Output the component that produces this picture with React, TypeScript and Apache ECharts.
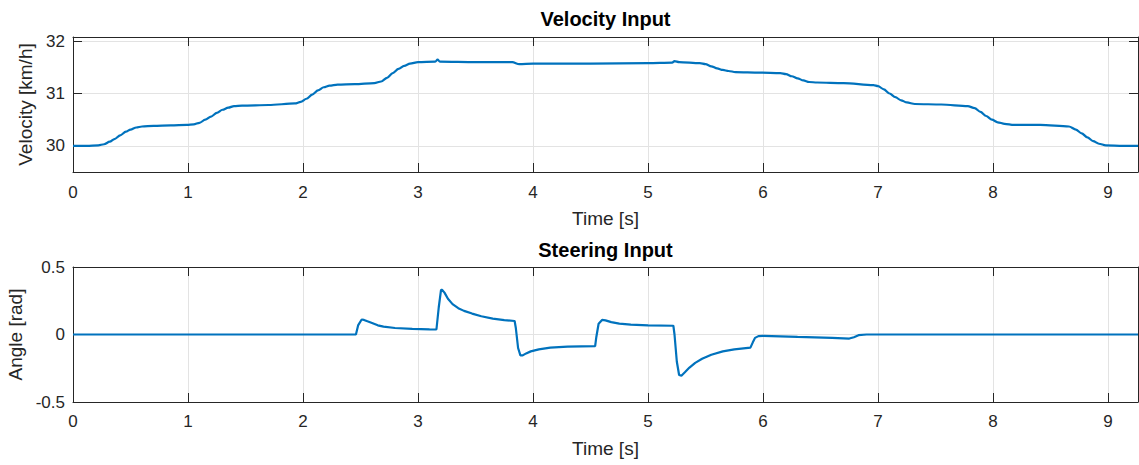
import React, { useEffect, useRef } from "react";
import * as echarts from "echarts";

// Time axis (seconds)
const timeMax = 9.26;
const timeTicks = [0, 1, 2, 3, 4, 5, 6, 7, 8, 9];

// Velocity subplot
const velocityMin = 29.5;
const velocityMax = 32.08;
const velocityTicks = [30, 31, 32];
const velocityTime = [
  0, 0.12, 0.22, 0.27, 0.32, 0.36, 0.41, 0.46, 0.5, 0.55, 0.6, 0.7, 0.85, 0.99,
  1.05, 1.1, 1.15, 1.2, 1.25, 1.3, 1.35, 1.4, 1.47, 1.7, 1.93, 1.98, 2.03, 2.08,
  2.13, 2.18, 2.23, 2.3, 2.45, 2.62, 2.68, 2.73, 2.78, 2.83, 2.88, 2.93, 3.0, 3.15,
  3.17, 3.19, 3.5, 3.82, 3.88, 4.0, 4.5, 5.0, 5.21, 5.23, 5.27, 5.45, 5.5, 5.55,
  5.6, 5.65, 5.7, 5.76, 5.97, 6.15, 6.2, 6.25, 6.3, 6.35, 6.4, 6.47, 6.7, 6.96,
  7.0, 7.05, 7.1, 7.15, 7.2, 7.25, 7.32, 7.55, 7.78, 7.84, 7.89, 7.94, 7.99, 8.04,
  8.1, 8.18, 8.41, 8.66, 8.72, 8.77, 8.82, 8.87, 8.92, 8.98, 9.13, 9.26,
];
const velocityKmh = [
  30.0, 30.0, 30.01, 30.03, 30.08, 30.13, 30.2, 30.27, 30.31, 30.35, 30.37, 30.38,
  30.39, 30.4, 30.41, 30.44, 30.5, 30.56, 30.63, 30.69, 30.73, 30.76, 30.77, 30.78,
  30.81, 30.84, 30.9, 30.98, 31.06, 31.12, 31.15, 31.17, 31.18, 31.2, 31.23, 31.3,
  31.39, 31.47, 31.53, 31.57, 31.6, 31.61, 31.65, 31.61, 31.6, 31.6, 31.56, 31.57,
  31.57, 31.58, 31.59, 31.62, 31.6, 31.58, 31.56, 31.52, 31.48, 31.45, 31.43, 31.41,
  31.4, 31.39, 31.37, 31.33, 31.29, 31.25, 31.22, 31.21, 31.2, 31.16, 31.14, 31.08,
  31.0, 30.93, 30.87, 30.83, 30.8, 30.79, 30.76, 30.72, 30.65, 30.57, 30.5, 30.45,
  30.42, 30.4, 30.4, 30.37, 30.31, 30.24, 30.16, 30.09, 30.04, 30.01, 30.0, 30.0,
];

// Steering subplot
const angleMin = -0.5;
const angleMax = 0.5;
const angleTicks = [-0.5, 0, 0.5];
const steeringTime = [
  0, 2.46, 2.48, 2.51, 2.53, 2.56, 2.6, 2.65, 2.7, 2.8, 2.95, 3.1, 3.16, 3.18,
  3.2, 3.21, 3.23, 3.26, 3.3, 3.35, 3.4, 3.47, 3.55, 3.65, 3.75, 3.84, 3.85, 3.87,
  3.89, 3.91, 3.94, 3.98, 4.05, 4.15, 4.3, 4.54, 4.55, 4.57, 4.6, 4.63, 4.68, 4.75,
  4.85, 5.0, 5.22, 5.23, 5.25, 5.27, 5.29, 5.32, 5.36, 5.41, 5.47, 5.55, 5.65, 5.75,
  5.89, 5.91, 5.93, 5.96, 6.0, 6.3, 6.6, 6.75, 6.79, 6.83, 6.9, 9.26,
];
const steeringRad = [
  0, 0, 0.07, 0.111, 0.108, 0.098, 0.085, 0.068, 0.058, 0.048, 0.042, 0.038, 0.037,
  0.2, 0.33, 0.33, 0.31, 0.265, 0.225, 0.195, 0.175, 0.155, 0.135, 0.118, 0.107,
  0.1, 0.05, -0.1, -0.155, -0.155, -0.14, -0.125, -0.11, -0.097, -0.09, -0.086,
  -0.02, 0.08, 0.108, 0.105, 0.092, 0.08, 0.073, 0.067, 0.065, 0.0, -0.2, -0.3,
  -0.305, -0.28, -0.245, -0.21, -0.18, -0.15, -0.125, -0.11, -0.097, -0.06, -0.025,
  -0.012, -0.01, -0.018, -0.025, -0.03, -0.02, -0.005, 0.0, 0.0,
];

const FONT = "'Liberation Sans', Arial, Helvetica, sans-serif";
const INK = "#262626";
const LINE = "#0072BD";
const GRID = "#e3e3e3";

const pairs = (xs: number[], ys: number[]) => xs.map((x, i) => [x, ys[i]]);

const plotLeft = 73;
const plotWidth = 1065;
const plotHeight = 135;
const topPlotTop = 37;
const bottomPlotTop = 267;

function bottomAxis(gridIndex: number, margin: number) {
  return {
    type: "value",
    gridIndex,
    position: "bottom",
    min: 0,
    max: timeMax,
    name: "Time [s]",
    nameLocation: "middle",
    nameGap: 37,
    nameTextStyle: { fontFamily: FONT, fontSize: 19, color: INK },
    axisLine: { show: true, onZero: false, lineStyle: { color: INK, width: 1 } },
    axisTick: { show: true, inside: true, length: 9, customValues: timeTicks, lineStyle: { color: INK } },
    axisLabel: { show: true, customValues: timeTicks, margin, fontFamily: FONT, fontSize: 17, color: INK },
    splitLine: { show: true, lineStyle: { color: GRID, width: 1 } },
  };
}

function topAxis(gridIndex: number) {
  return {
    type: "value",
    gridIndex,
    position: "top",
    min: 0,
    max: timeMax,
    axisLine: { show: true, onZero: false, lineStyle: { color: INK, width: 1 } },
    axisTick: { show: true, inside: true, length: 9, customValues: timeTicks, lineStyle: { color: INK } },
    axisLabel: { show: false },
    splitLine: { show: false },
  };
}

function leftAxis(gridIndex: number, min: number, max: number, ticks: number[], name: string, nameGap: number) {
  return {
    type: "value",
    gridIndex,
    position: "left",
    min,
    max,
    name,
    nameLocation: "middle",
    nameGap,
    nameTextStyle: { fontFamily: FONT, fontSize: 19, color: INK },
    axisLine: { show: true, onZero: false, lineStyle: { color: INK, width: 1 } },
    axisTick: { show: true, inside: true, length: 9, customValues: ticks, lineStyle: { color: INK } },
    axisLabel: { show: true, customValues: ticks, margin: 8, fontFamily: FONT, fontSize: 17, color: INK },
    splitLine: { show: true, lineStyle: { color: GRID, width: 1 } },
  };
}

function rightAxis(gridIndex: number, min: number, max: number, ticks: number[]) {
  return {
    type: "value",
    gridIndex,
    position: "right",
    min,
    max,
    axisLine: { show: true, onZero: false, lineStyle: { color: INK, width: 1 } },
    axisTick: { show: true, inside: true, length: 9, customValues: ticks, lineStyle: { color: INK } },
    axisLabel: { show: false },
    splitLine: { show: false },
  };
}

export default function App() {
  const ref = useRef<HTMLDivElement>(null);

  useEffect(() => {
    if (!ref.current) return;
    const chart = echarts.init(ref.current, undefined, { renderer: "svg" });
    chart.setOption({
      animation: false,
      backgroundColor: "#ffffff",
      grid: [
        {
          left: plotLeft,
          top: topPlotTop,
          width: plotWidth,
          height: plotHeight,
          containLabel: false,
          outerBoundsMode: "none",
        },
        {
          left: plotLeft,
          top: bottomPlotTop,
          width: plotWidth,
          height: plotHeight,
          containLabel: false,
          outerBoundsMode: "none",
        },
      ],
      xAxis: [bottomAxis(0, 12), topAxis(0), bottomAxis(1, 11), topAxis(1)],
      yAxis: [
        leftAxis(0, velocityMin, velocityMax, velocityTicks, "Velocity [km/h]", 30),
        rightAxis(0, velocityMin, velocityMax, velocityTicks),
        leftAxis(1, angleMin, angleMax, angleTicks, "Angle [rad]", 43),
        rightAxis(1, angleMin, angleMax, angleTicks),
      ],
      graphic: [
        {
          type: "text",
          x: plotLeft + plotWidth / 2,
          y: 9,
          style: {
            text: "Velocity Input",
            fill: "#000000",
            font: `bold 20px ${FONT}`,
            textAlign: "center",
            textVerticalAlign: "top",
          },
        },
        {
          type: "text",
          x: plotLeft + plotWidth / 2,
          y: 240,
          style: {
            text: "Steering Input",
            fill: "#000000",
            font: `bold 20px ${FONT}`,
            textAlign: "center",
            textVerticalAlign: "top",
          },
        },
      ],
      series: [
        {
          type: "line",
          xAxisIndex: 0,
          yAxisIndex: 0,
          data: pairs(velocityTime, velocityKmh),
          showSymbol: false,
          smooth: 0.3,
          smoothMonotone: "x",
          lineStyle: { color: LINE, width: 2.2 },
        },
        {
          type: "line",
          xAxisIndex: 2,
          yAxisIndex: 2,
          data: pairs(steeringTime, steeringRad),
          showSymbol: false,
          lineStyle: { color: LINE, width: 2.2 },
        },
      ],
    });
    return () => chart.dispose();
  }, []);

  return (
    <div
      ref={ref}
      style={{ position: "fixed", left: 0, top: 0, width: 1139, height: 465, background: "#fff" }}
    />
  );
}
